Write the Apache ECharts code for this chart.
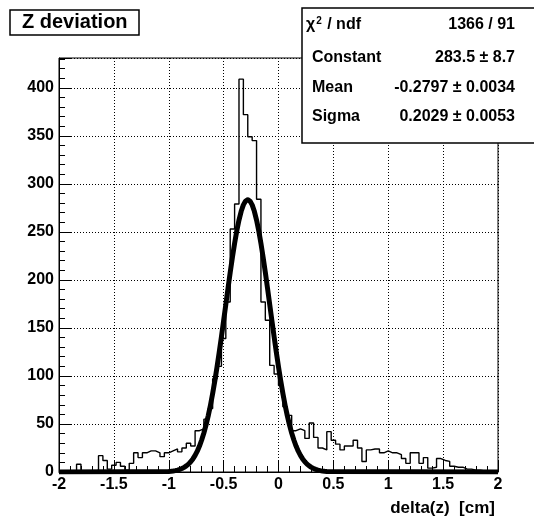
<!DOCTYPE html>
<html>
<head>
<meta charset="utf-8">
<script src="https://cdn.jsdelivr.net/npm/echarts@6/dist/echarts.min.js"></script>
<style>
html,body{margin:0;padding:0;background:#fff;}
#chart{width:534px;height:520px;}
</style>
</head>
<body>
<div id="chart"></div>
<script>
// Histogram: 100 bins from -2 to 2
const histMin = -2;
const histMax = 2;
const histCounts = [
  0,0,0,0,8,0,0,0,2,17,
  12,3,7,10,6,2,9,20,15,20,
  22,22,20,16,20,22,24,21,25,30,
  27,43,45,55,66,97,110,139,177,253,
  279,409,372,349,345,284,177,158,111,102,
  90,68,59,43,45,43,35,51,36,25,
  23,42,33,29,23,27,27,33,25,11,
  23,24,24,20,22,20,20,18,14,9,
  20,20,9,15,4,5,14,12,11,6,
  5,5,3,3,2,2,1,1,1,0
];

const fitX = [-2,
  -1.00,-0.98,-0.96,-0.94,-0.92,-0.90,-0.88,-0.86,-0.84,-0.82,
  -0.80,-0.78,-0.76,-0.74,-0.72,-0.70,-0.68,-0.66,-0.64,-0.62,
  -0.60,-0.58,-0.56,-0.54,-0.52,-0.50,-0.48,-0.46,-0.44,-0.42,
  -0.40,-0.38,-0.36,-0.34,-0.32,-0.30,
  -0.28,
  -0.26,-0.24,-0.22,-0.20,-0.18,-0.16,-0.14,-0.12,-0.10,-0.08,
  -0.06,-0.04,-0.02,0.00,0.02,0.04,0.06,0.08,0.10,0.12,
  0.14,0.16,0.18,0.20,0.22,0.24,0.26,0.28,0.30,0.32,
  0.34,0.36,0.38,0.40,0.42,0.44,
  2];
const fitY = [0,
  0.5,0.7,1.0,1.4,2.0,2.7,3.6,4.8,6.3,8.2,
  10.6,13.6,17.3,21.7,27.0,33.3,40.6,49.1,58.7,69.6,
  81.7,95.0,109.4,124.7,140.8,157.5,174.4,191.3,207.8,223.4,
  238.0,251.1,262.3,271.4,278.1,282.1,
  283.5,
  282.1,278.1,271.4,262.3,251.1,238.0,223.4,207.8,191.3,174.4,
  157.5,140.8,124.7,109.4,95.0,81.7,69.6,58.7,49.1,40.6,
  33.3,27.0,21.7,17.3,13.6,10.6,8.2,6.3,4.8,3.6,
  2.7,2.0,1.4,1.0,0.7,0.5,
  0];

const titleText = 'Z deviation';
const xTitle = 'delta(z)  [cm]';
const statsLabels = ['χ{sup|2} / ndf', 'Constant', 'Mean', 'Sigma'];
const statsValues = ['1366 / 91', '283.5 ± 8.7', '-0.2797 ± 0.0034', '0.2029 ± 0.0053'];

const nb = histCounts.length;
const bw = (histMax - histMin) / nb;
const histData = histCounts.map((v, i) => [histMin + i * bw, v]);
histData.push([histMax, histCounts[nb - 1]]);
const fitData = fitX.map((x, i) => [x, fitY[i]]);

const FONT = 'Liberation Sans';
const chart = echarts.init(document.getElementById('chart'), null, {renderer: 'canvas'});

const statsGraphics = [];
const rowY = [25, 58, 88, 117];
statsLabels.forEach((t, i) => {
  statsGraphics.push({
    type: 'text', x: i === 0 ? 306 : 312, y: rowY[i], z: 102,
    style: {
      text: '{m|' + t.replace('{sup|2}', '}{sup|2}{m|') + '}',
      verticalAlign: 'middle',
      rich: {
        m: { fontSize: 16, fontWeight: 'bold', fontFamily: FONT, fill: '#000', color: '#000' },
        sup: { fontSize: 10, fontWeight: 'bold', fontFamily: FONT, color: '#000', verticalAlign: 'top', padding: [0,1,8,1] }
      }
    }
  });
  statsGraphics.push({
    type: 'text', x: 515, y: rowY[i], z: 102,
    style: { text: statsValues[i], fill: '#000', font: 'bold 16px "' + FONT + '"', align: 'right', verticalAlign: 'middle' }
  });
});

const option = {
  animation: false,
  backgroundColor: '#fff',
  grid: { left: 59, right: 36, top: 58, bottom: 48, show: true, borderColor: '#000', borderWidth: 1, backgroundColor: 'transparent' },
  xAxis: {
    type: 'value', min: -2, max: 2, interval: 0.5,
    axisLine: { show: true, onZero: false, lineStyle: { color: '#000', width: 1 } },
    axisTick: { show: true, inside: true, length: 12, lineStyle: { color: '#000', width: 1 } },
    minorTick: { show: true, splitNumber: 5, length: 6, lineStyle: { color: '#000', width: 1 } },
    axisLabel: { color: '#000', fontFamily: FONT, fontWeight: 'bold', fontSize: 16, margin: 5 },
    splitLine: { show: true, lineStyle: { color: '#000', width: 1, type: [1, 2] } }
  },
  yAxis: {
    type: 'value', min: 0, max: 431, interval: 50,
    axisLine: { show: true, onZero: false, lineStyle: { color: '#000', width: 1 } },
    axisTick: { show: true, inside: true, length: 12, lineStyle: { color: '#000', width: 1 } },
    minorTick: { show: true, splitNumber: 5, length: 6, lineStyle: { color: '#000', width: 1 } },
    axisLabel: { color: '#000', fontFamily: FONT, fontWeight: 'bold', fontSize: 16, margin: 5, showMaxLabel: false },
    splitLine: { show: true, lineStyle: { color: '#000', width: 1, type: [1, 2] } }
  },
  title: {
    text: titleText, left: 10, top: 10,
    padding: [3, 12, 3, 12],
    borderColor: '#000', borderWidth: 1.5, backgroundColor: '#fff',
    textStyle: { fontFamily: FONT, fontWeight: 'bold', fontSize: 20, color: '#000', lineHeight: 19 }
  },
  series: [
    {
      type: 'line', data: histData, step: 'end', showSymbol: false, symbol: 'none',
      lineStyle: { color: '#000', width: 1.4 }, z: 3, clip: true
    },
    {
      type: 'line', data: fitData, smooth: false, showSymbol: false, symbol: 'none',
      lineStyle: { color: '#000', width: 5, join: 'round' }, z: 4, clip: true
    }
  ],
  graphic: [
    { type: 'rect', shape: { x: 302, y: 8, width: 240, height: 135 }, z: 100,
      style: { fill: '#fff', stroke: '#000', lineWidth: 1.5 } },
    ...statsGraphics,
    { type: 'text', x: 495, y: 508, z: 102,
      style: { text: xTitle, fill: '#000', font: 'bold 17px "' + FONT + '"', align: 'right', verticalAlign: 'middle' } }
  ]
};
chart.setOption(option);
</script>
</body>
</html>
